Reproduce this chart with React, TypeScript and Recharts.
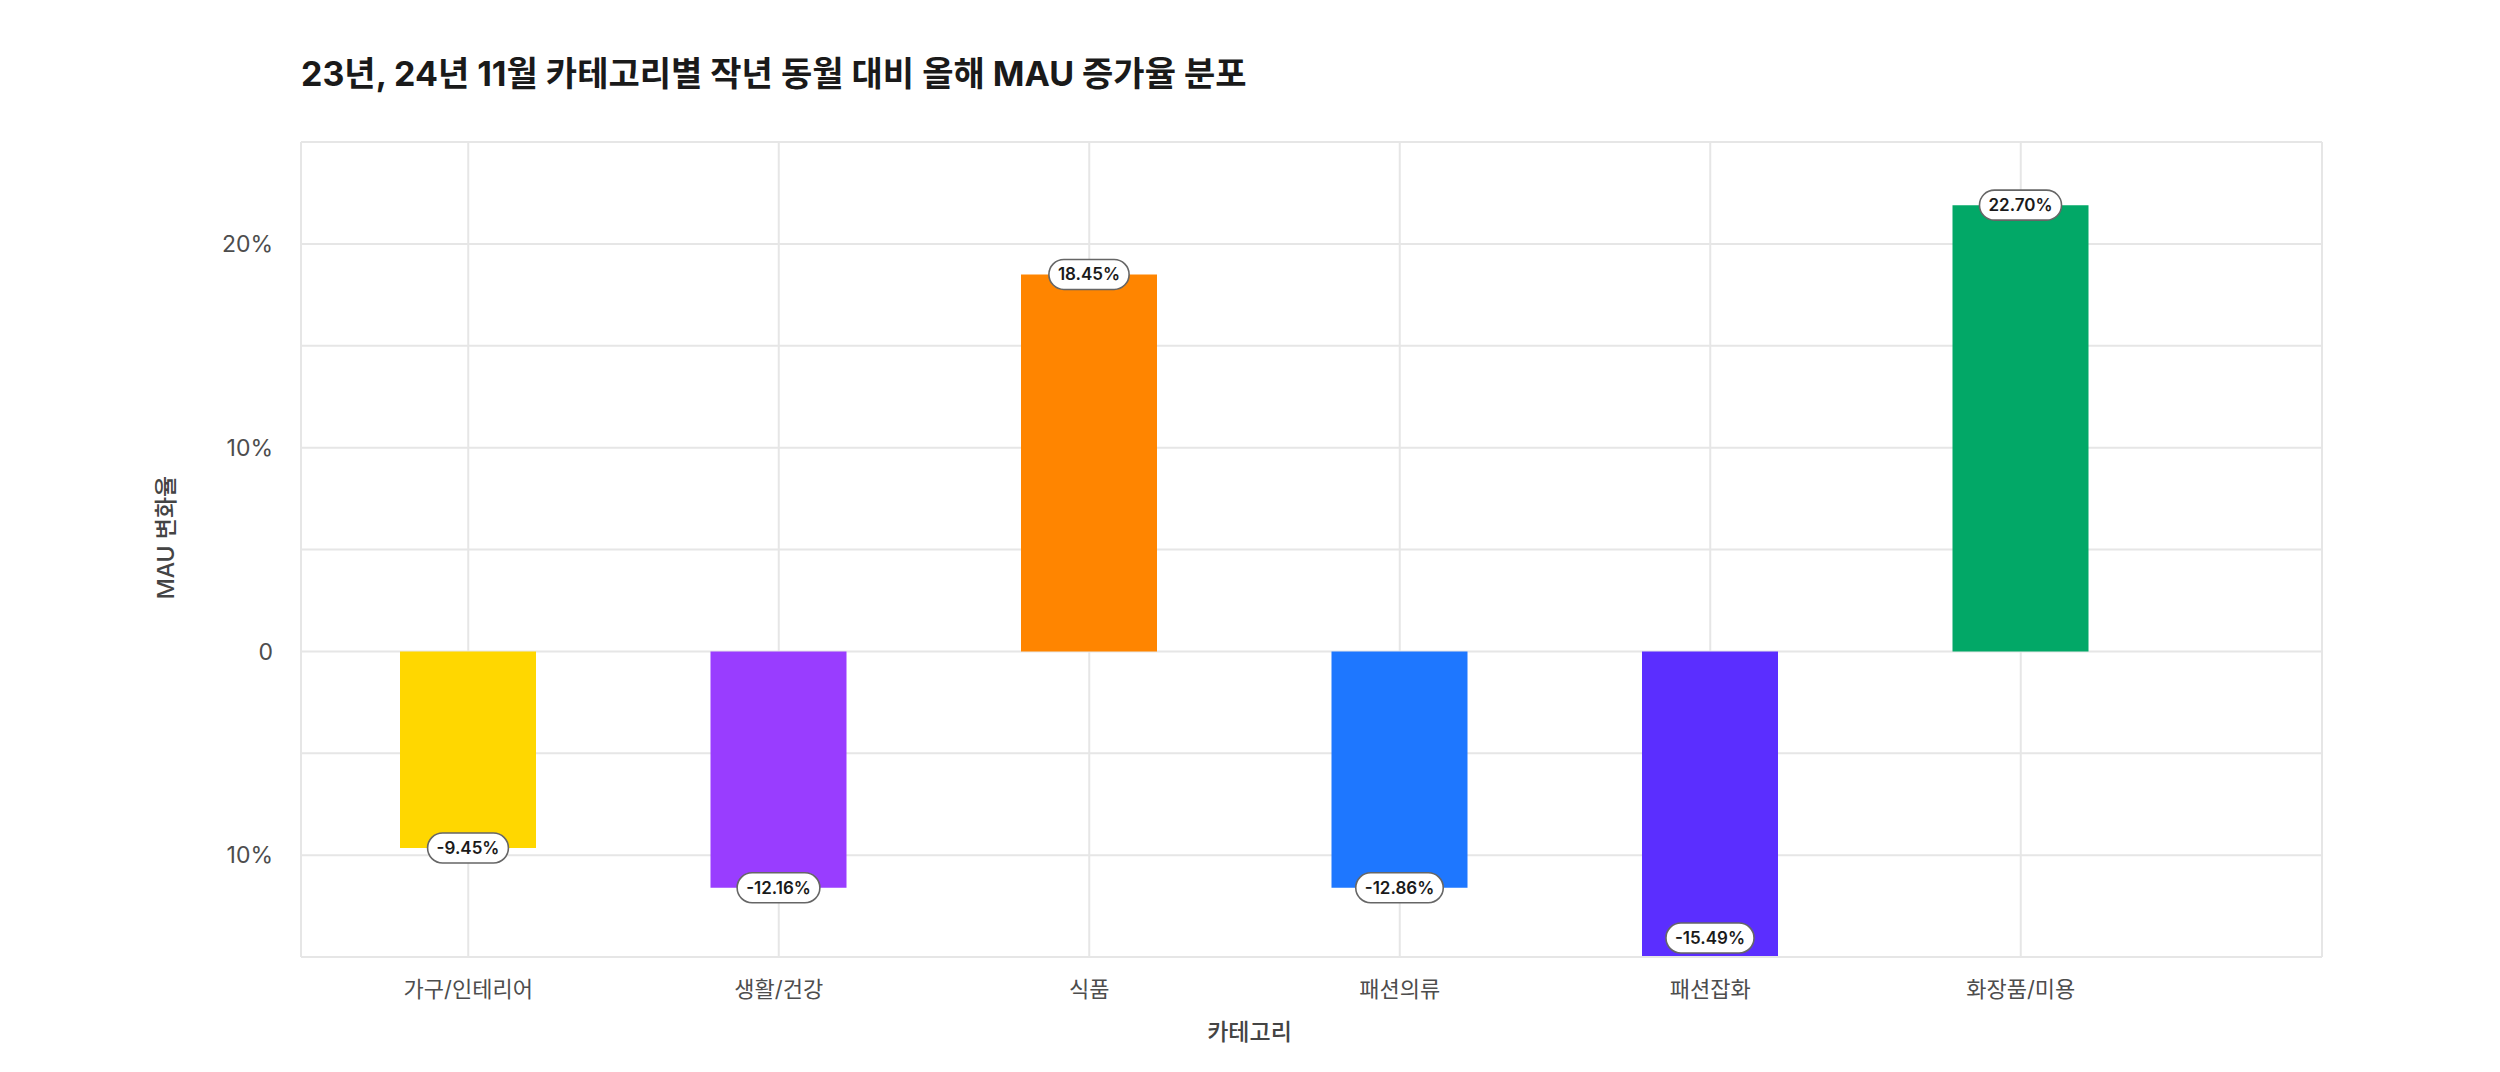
import { BarChart, Bar, Cell, XAxis, YAxis, CartesianGrid, LabelList } from "recharts";

const categories = ["가구/인테리어", "생활/건강", "식품", "패션의류", "패션잡화", "화장품/미용"];
const changeRates = [-9.65, -11.6, 18.5, -11.6, -15.49, 21.9];
const rateLabels = ["-9.45%", "-12.16%", "18.45%", "-12.86%", "-15.49%", "22.70%"];
const barColors = ["#FFD700", "#993DFF", "#FF8500", "#1E77FF", "#5B2EFF", "#02A867"];
const yTicks = [-15, -10, -5, 0, 5, 10, 15, 20, 25];

const Y_MIN = -15;
const Y_MAX = 25;
const FONT = "Inter, 'Noto Sans CJK KR', sans-serif";
const GRID = "#e6e6e6";

const data = categories.map((c, i) => ({ category: c, rate: changeRates[i] }));

let ctx: CanvasRenderingContext2D | null = null;
const measure = (text: string) => {
  if (!ctx) ctx = document.createElement("canvas").getContext("2d");
  if (!ctx) return text.length * 9.5;
  ctx.font = "600 17px Inter";
  return ctx.measureText(text).width;
};

const PillLabel = (props: any) => {
  const x = Number(props.x);
  const y = Number(props.y);
  const width = Number(props.width);
  const height = Number(props.height);
  const value = Number(props.value);
  const text = rateLabels[props.index];
  const top = Math.min(y, y + height);
  const bottom = Math.max(y, y + height);
  const cx = x + width / 2;
  let cy = value >= 0 ? top : bottom;
  if (value < Y_MIN) {
    const per = (bottom - top) / Math.abs(value);
    cy = top + Math.abs(Y_MIN) * per - 19;
  }
  const w = measure(text) + 18;
  const h = 30;
  return (
    <g>
      <rect x={cx - w / 2} y={cy - h / 2} width={w} height={h} rx={h / 2} fill="#fff" stroke="#666" strokeWidth={1.6} />
      <text x={cx} y={cy} textAnchor="middle" dominantBaseline="central" fontFamily={FONT} fontSize={17} fontWeight={600} fill="#1a1a1a">
        {text}
      </text>
    </g>
  );
};

const yTickFormat = (v: number) => (v % 10 !== 0 ? "" : v === 0 ? "0" : `${Math.abs(v)}%`);

const App = () => {
  return (
    <div style={{ position: "absolute", left: 0, top: 0, width: 2500, height: 1072, background: "#fff" }}>
      <div
        style={{
          position: "absolute",
          left: 301,
          top: 57,
          fontFamily: FONT,
          fontSize: 34,
          lineHeight: "34px",
          fontWeight: 700,
          color: "#1a1a1a",
          whiteSpace: "nowrap",
        }}
      >
        23년, 24년 11월 카테고리별 작년 동월 대비 올해 MAU 증가율 분포
      </div>
      <div style={{ position: "absolute", left: 0, top: 0 }}>
        <BarChart width={2500} height={1072} data={data} margin={{ top: 142, right: 178, bottom: 55, left: 0 }}>
          <CartesianGrid stroke={GRID} strokeWidth={2} />
          <XAxis
            dataKey="category"
            interval={0}
            padding={{ left: 12, right: 146 }}
            height={60}
            tickLine={false}
            tickSize={0}
            tickMargin={24}
            axisLine={{ stroke: GRID, strokeWidth: 2 }}
            tick={{ fill: "#4d4d4d", fontSize: 22, fontFamily: FONT }}
            label={{
              content: (p: any) => {
                const vb = p.viewBox;
                return (
                  <text
                    x={vb.x + vb.width / 2 - 62}
                    y={vb.y + 83}
                    textAnchor="middle"
                    fontFamily={FONT}
                    fontSize={23}
                    fontWeight={500}
                    fill="#444"
                  >
                    카테고리
                  </text>
                );
              },
            }}
          />
          <YAxis
            type="number"
            domain={[Y_MIN, Y_MAX]}
            ticks={yTicks}
            interval={0}
            allowDataOverflow
            width={301}
            tickLine={false}
            tickSize={0}
            tickMargin={28}
            tickFormatter={yTickFormat}
            axisLine={{ stroke: GRID, strokeWidth: 2 }}
            tick={{ fill: "#4d4d4d", fontSize: 23, fontFamily: FONT }}
            label={{
              content: (p: any) => {
                const vb = p.viewBox;
                const lx = vb.x + 166;
                const ly = vb.y + vb.height / 2 - 12;
                return (
                  <text
                    x={lx}
                    y={ly}
                    transform={`rotate(-90 ${lx} ${ly})`}
                    textAnchor="middle"
                    dominantBaseline="central"
                    fontFamily={FONT}
                    fontSize={23}
                    fontWeight={500}
                    fill="#444"
                  >
                    MAU 변화율
                  </text>
                );
              },
            }}
          />
          <YAxis
            yAxisId="r"
            orientation="right"
            type="number"
            domain={[0, 1]}
            width={0}
            tick={false}
            tickLine={false}
            axisLine={{ stroke: GRID, strokeWidth: 2 }}
          />
          <Bar dataKey="rate" barSize={136} isAnimationActive={false}>
            {data.map((d, i) => (
              <Cell key={d.category} fill={barColors[i]} />
            ))}
            <LabelList dataKey="rate" content={PillLabel} />
          </Bar>
        </BarChart>
      </div>
    </div>
  );
};

export default App;
